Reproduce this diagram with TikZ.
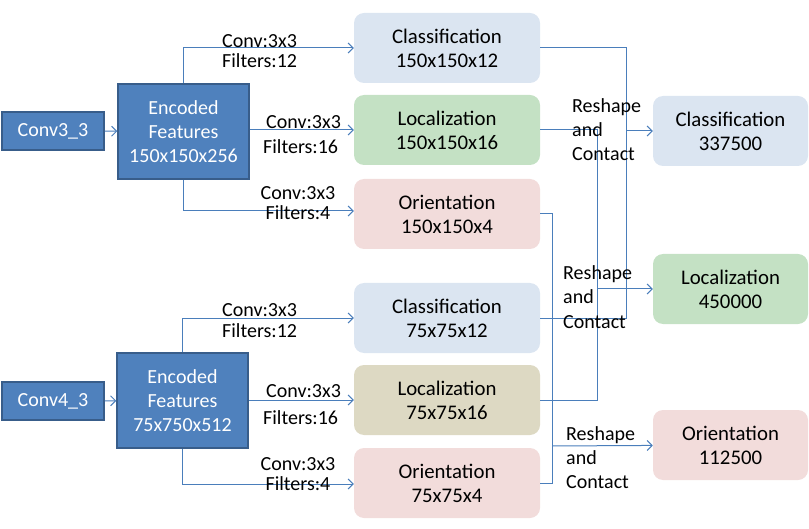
\documentclass[tikz,border=0pt]{standalone}
\usepackage{fontspec}
\setmainfont{Carlito}
\usetikzlibrary{arrows.meta}
\definecolor{boxblue}{RGB}{79,129,189}
\definecolor{boxedge}{RGB}{56,93,138}
\definecolor{lineblue}{RGB}{74,126,187}
\definecolor{clsfill}{RGB}{219,229,241}
\definecolor{locfill}{RGB}{196,225,196}
\definecolor{tanfill}{RGB}{221,217,195}
\definecolor{orifill}{RGB}{242,220,219}
\begin{document}
\begin{tikzpicture}[x=1bp, y=-1bp,
  every node/.style={font=\fontsize{20bp}{24bp}\selectfont},
  convbox/.style={draw=boxedge, line width=1.5bp, fill=boxblue, text=white, minimum width=102bp, minimum height=38bp, inner sep=0pt},
  featbox/.style={convbox, minimum width=131bp, minimum height=95bp, align=center},
  headbox/.style={rounded corners=10bp, minimum width=186bp, minimum height=70bp, align=center, inner sep=0pt, font=\fontsize{20.8bp}{24bp}\selectfont},
  outbox/.style={headbox, minimum width=155bp},
  conn/.style={draw=lineblue, line width=1bp},
  arr/.style={conn, -{Straight Barb[length=5bp,width=10bp]}},
  convlab/.style={anchor=base west, align=left, inner sep=0pt, font=\fontsize{20bp}{20bp}\selectfont},
  reslab/.style={anchor=base west, align=left, inner sep=0pt}]
  \useasboundingbox (0,0) rectangle (809,529);

  % inputs and encoders
  \node[convbox] (c3) at (53,131) {Conv3\_3};
  \node[featbox] (e3) at (183.5,131.5) {Encoded\\Features\\150x150x256};
  \node[convbox] (c4) at (53,401) {Conv4\_3};
  \node[featbox] (e4) at (182.5,400.5) {Encoded\\Features\\75x750x512};

  % heads
  \node[headbox, fill=clsfill] (cls3) at (447,48) {Classification\\150x150x12};
  \node[headbox, fill=locfill] (loc3) at (447,130) {Localization\\150x150x16};
  \node[headbox, fill=orifill] (ori3) at (447,214) {Orientation\\150x150x4};
  \node[headbox, fill=clsfill] (cls4) at (447,318) {Classification\\75x75x12};
  \node[headbox, fill=tanfill] (loc4) at (447,400) {Localization\\75x75x16};
  \node[headbox, fill=orifill] (ori4) at (447,483) {Orientation\\75x75x4};

  % outputs
  \node[outbox, fill=clsfill] (rcls) at (730.5,131) {Classification\\337500};
  \node[outbox, fill=locfill] (rloc) at (730.5,289) {Localization\\450000};
  \node[outbox, fill=orifill] (rori) at (730.5,445) {Orientation\\112500};

  \draw[arr] (c3) -- (e3);
  \draw[arr] (c4) -- (e4);

  \draw[arr] (e3.north) |- (cls3);
  \draw[arr] (e3.east |- loc3.west) -- (loc3.west);
  \draw[arr] (e3.south) |- ([yshift=3bp]ori3.west);
  \draw[arr] (e4.north) |- (cls4);
  \draw[arr] (e4.east |- loc4.west) -- (loc4.west);
  \draw[arr] (e4.south) |- ([yshift=-1bp]ori4.west);

  \node[convlab] (l1) at (222,68) {Conv:3x3\\Filters:12};
  \node[convlab] (l2) at (266,129) {Conv:3x3};
  \node[convlab] (l3) at (263,154) {Filters:16};
  \node[convlab, align=center, anchor=base] (l4) at (298,220) {Conv:3x3\\Filters:4};
  \node[convlab] (l5) at (222,337) {Conv:3x3\\Filters:12};
  \node[convlab] (l6) at (266,397) {Conv:3x3};
  \node[convlab] (l7) at (263,424) {Filters:16};
  \node[convlab, align=center, anchor=base] (l8) at (298,490) {Conv:3x3\\Filters:4};

  % reshape and merge
  \coordinate (mc) at (626,131);
  \coordinate (ml) at (597,289);
  \coordinate (mo) at (552,446);
  \draw[conn] (cls3.east) -| (mc |- cls4.east) -- (cls4.east);
  \draw[arr] (mc) -- (rcls);
  \draw[conn] (loc3.east) -| (ml |- loc4.east) -- (loc4.east);
  \draw[arr] (ml) -- (rloc);
  \draw[conn] (ori3.east) -| (mo |- ori4.east) -- (ori4.east);
  \draw[arr] (mo) -- (rori);

  \node[reslab] (r1) at (572,161) {Reshape\\and\\Contact};
  \node[reslab] (r2) at (563,328) {Reshape\\and\\Contact};
  \node[reslab] (r3) at (566,488) {Reshape\\and\\Contact};
\end{tikzpicture}
\end{document}
